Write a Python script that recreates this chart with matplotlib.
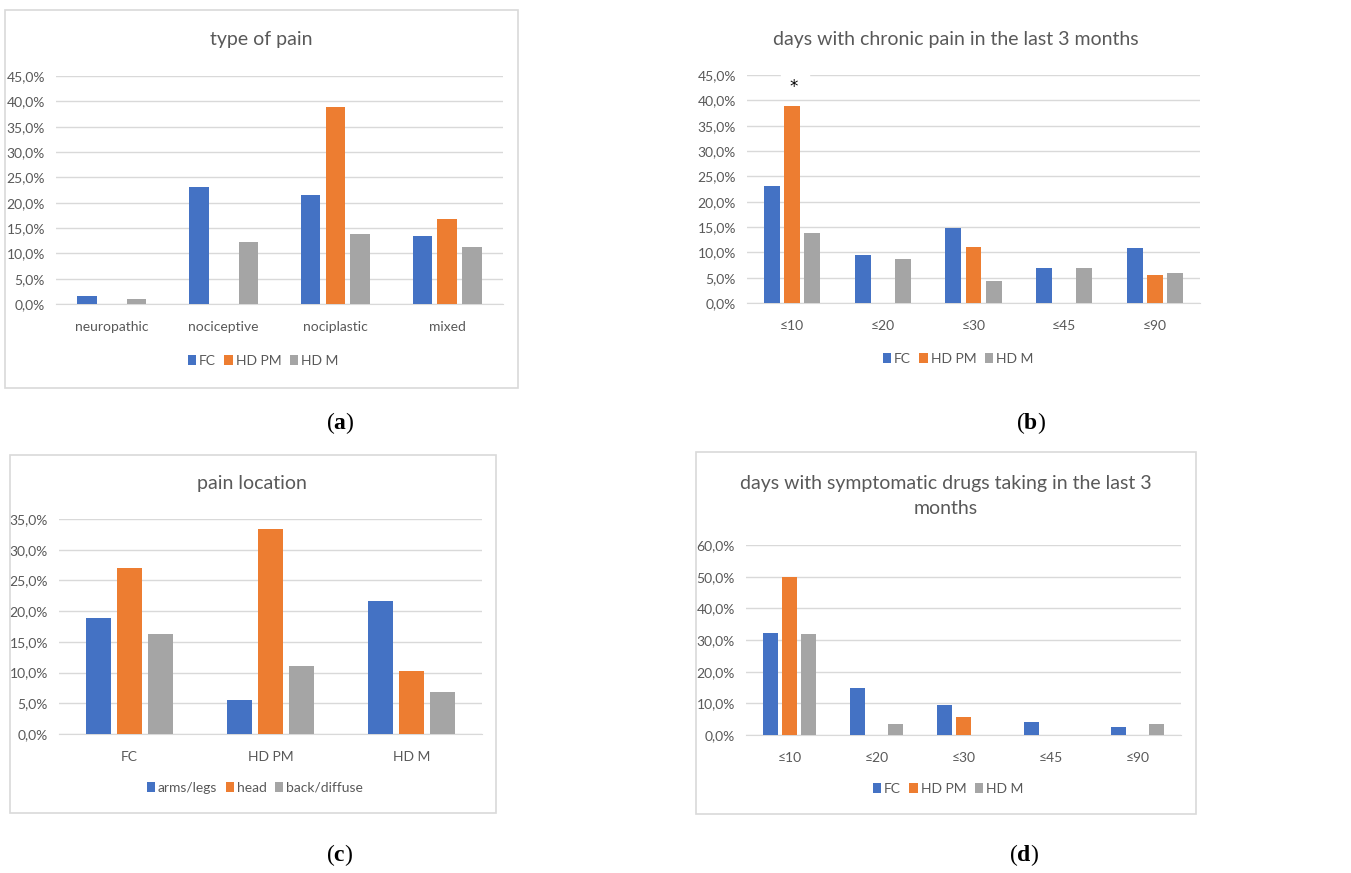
import numpy as np
import matplotlib.pyplot as plt
from matplotlib.patches import Rectangle
from matplotlib.ticker import FuncFormatter

plt.rcParams['font.family'] = ['Lato', 'DejaVu Sans']
plt.rcParams['mathtext.fontset'] = 'custom'
plt.rcParams['mathtext.bf'] = 'Liberation Serif:bold'
plt.rcParams['mathtext.rm'] = 'Liberation Serif'

# colours (Excel default palette)
BLUE = '#4472C4'
ORANGE = '#ED7D31'
GRAY = '#A5A5A5'
TXT = '#595959'
GRID = '#D9D9D9'

groups = ['FC', 'HD PM', 'HD M']

# (a) type of pain
pain_types = ['neuropathic', 'nociceptive', 'nociplastic', 'mixed']
type_fc = [1.5, 23.0, 21.6, 13.5]
type_hdpm = [0.0, 0.0, 38.9, 16.7]
type_hdm = [1.0, 12.2, 13.9, 11.3]

# (b) days with chronic pain
day_bins = ['≤10', '≤20', '≤30', '≤45', '≤90']
days_fc = [23.0, 9.5, 14.9, 6.9, 10.8]
days_hdpm = [38.9, 0.0, 11.1, 0.0, 5.6]
days_hdm = [13.9, 8.6, 4.3, 6.9, 6.0]

# (c) pain location
locations = ['arms/legs', 'head', 'back/diffuse']
loc_arms = [18.9, 5.6, 21.6]
loc_head = [27.0, 33.3, 10.3]
loc_back = [16.2, 11.1, 6.9]

# (d) days with symptomatic drugs
drug_fc = [32.3, 14.9, 9.4, 4.2, 2.6]
drug_hdpm = [50.0, 0.0, 5.6, 0.0, 0.0]
drug_hdm = [31.8, 3.4, 0.0, 0.0, 3.4]

W, H = 1351, 873
fig = plt.figure(figsize=(W / 100, H / 100), dpi=100)


def box(x0, y0, x1, y1):
    return [x0 / W, 1 - y1 / H, (x1 - x0) / W, (y1 - y0) / H]


def frame(x0, y0, x1, y1):
    fig.patches.append(Rectangle((x0 / W, 1 - y1 / H), (x1 - x0) / W, (y1 - y0) / H,
                                 transform=fig.transFigure, fill=False,
                                 edgecolor='#D9D9D9', lw=1.2))


def bar_panel(rect, cats, series, names, ymax, step, title, title_xy, leg_xy):
    ax = fig.add_axes(box(*rect))
    x = np.arange(len(cats))
    colors = [BLUE, ORANGE, GRAY]
    for i, (vals, name) in enumerate(zip(series, names)):
        ax.bar(x + (i - 1) * 0.222, vals, width=0.175, color=colors[i], label=name, zorder=3)
    ax.set_xlim(-0.5, len(cats) - 0.5)
    ax.set_ylim(0, ymax)
    ax.set_yticks(np.arange(0, ymax + 0.01, step))
    ax.yaxis.set_major_formatter(FuncFormatter(lambda v, p: f'{v:.1f}%'.replace('.', ',')))
    ax.grid(axis='y', color=GRID, lw=1.0, zorder=0)
    ax.set_xticks(x)
    ax.set_xticklabels(cats)
    ax.tick_params(length=0, colors=TXT, labelsize=10)
    ax.tick_params(axis='x', pad=12)
    ax.tick_params(axis='y', pad=8)
    for s in ['left', 'right', 'top']:
        ax.spines[s].set_visible(False)
    ax.spines['bottom'].set_color(GRID)
    fig.text(title_xy[0] / W, 1 - title_xy[1] / H, title, ha='center', va='center',
             fontsize=14, color=TXT, linespacing=1.55)
    fig.legend(*ax.get_legend_handles_labels(), loc='center',
               bbox_to_anchor=(leg_xy[0] / W, 1 - leg_xy[1] / H), ncol=3, frameon=False,
               fontsize=10, labelcolor=TXT, handlelength=0.6, handleheight=0.7,
               handletextpad=0.2, columnspacing=0.6)
    return ax


# (a)
frame(5, 10, 518, 388)
bar_panel((56, 76, 503, 304), pain_types, [type_fc, type_hdpm, type_hdm], groups,
          45, 5, 'type of pain', (261, 40), (263, 361))

# (b)
axb = bar_panel((747, 75, 1200, 303), day_bins, [days_fc, days_hdpm, days_hdm], groups,
                45, 5, 'days with chronic pain in the last 3 months', (956, 39), (958, 359))
axb.add_patch(Rectangle((-0.13, 44.4), 0.31, 1.2, color='white', zorder=2, clip_on=False))
axb.text(0.01, 42.7, '*', ha='center', va='center', fontsize=12, color='black',
         family='DejaVu Sans', zorder=4)

# (c)
frame(10, 455, 496, 813)
bar_panel((59, 519, 482, 734), groups, [loc_arms, loc_head, loc_back], locations,
          35, 5, 'pain location', (252, 484), (255, 788))

# (d)
frame(696, 452, 1196, 814)
bar_panel((746, 545, 1181, 735), day_bins, [drug_fc, drug_hdpm, drug_hdm], groups,
          60, 10, 'days with symptomatic drugs taking in the last 3\nmonths', (946, 496),
          (948, 789))

# captions
for lab, cx, cy in [('a', 340, 423), ('b', 1031, 423), ('c', 340, 855), ('d', 1024, 855)]:
    fig.text(cx / W, 1 - cy / H, '($\\mathbf{' + lab + '}$)', ha='center', va='center',
             fontsize=17, color='black', family='Liberation Serif')

fig.savefig('out.png', dpi=100)
